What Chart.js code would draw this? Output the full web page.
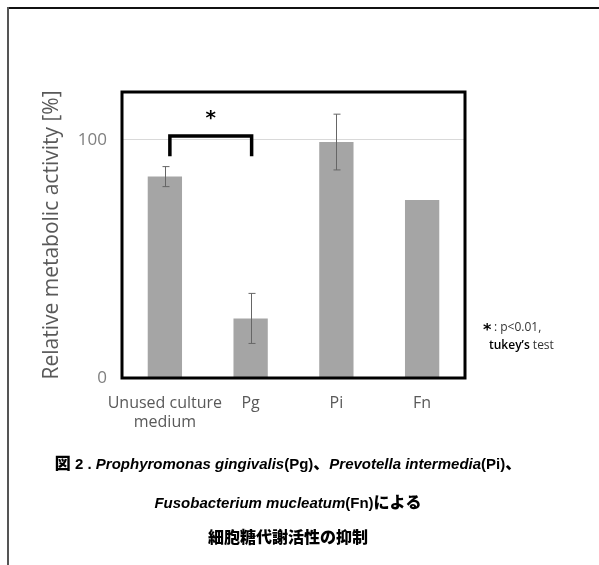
<!DOCTYPE html>
<html>
<head>
<meta charset="utf-8">
<script src="https://cdn.jsdelivr.net/npm/chart.js@4"></script>
<style>
  html, body { margin: 0; padding: 0; background: #fff; }
  canvas { display: block; }
</style>
</head>
<body>
<canvas id="chart" width="599" height="565"></canvas>
<script>
// data
var categories = [["Unused culture", "medium"], "Pg", "Pi", "Fn"];
var activity = [84.5, 25, 99, 74.7];
var errorSize = [4.2, 10.5, 11.7, 0];
var yTicks = [0, 100];
var yMax = 120;
// significance bracket between categories 0 and 1
var bracketFrom = 0, bracketTo = 1;
var bracketLevel = 101.5, bracketFoot = 93, starLevel = 110.5;

var greyText = "#595959";
var sans = "'Open Sans', 'DejaVu Sans', sans-serif";

var extras = {
    id: "extras",
    afterDatasetsDraw: function (chart) {
        var ctx = chart.ctx,
            area = chart.chartArea,
            x = chart.scales.x,
            y = chart.scales.y;

        ctx.save();
        // error bars
        ctx.strokeStyle = "#666";
        ctx.lineWidth = 1;
        activity.forEach(function (v, i) {
            if (!errorSize[i]) return;
            var cx = Math.round(x.getPixelForValue(i)) + 0.5,
                top = y.getPixelForValue(v + errorSize[i]),
                bot = y.getPixelForValue(v - errorSize[i]);
            ctx.beginPath();
            ctx.moveTo(cx, top); ctx.lineTo(cx, bot);
            ctx.moveTo(cx - 3, top); ctx.lineTo(cx + 4, top);
            ctx.moveTo(cx - 3, bot); ctx.lineTo(cx + 4, bot);
            ctx.stroke();
        });

        // plot frame
        ctx.strokeStyle = "#000";
        ctx.lineWidth = 3;
        ctx.strokeRect(area.left, area.top, area.right - area.left, area.bottom - area.top);

        // bracket
        var bx1 = x.getPixelForValue(bracketFrom) + 5,
            bx2 = x.getPixelForValue(bracketTo) + 1,
            by = y.getPixelForValue(bracketLevel),
            bf = y.getPixelForValue(bracketFoot);
        ctx.lineWidth = 3.5;
        ctx.lineCap = "butt";
        ctx.beginPath();
        ctx.moveTo(bx1, bf); ctx.lineTo(bx1, by); ctx.lineTo(bx2, by); ctx.lineTo(bx2, bf);
        ctx.stroke();
        ctx.fillStyle = "#000";
        ctx.font = "bold 20px 'DejaVu Sans', sans-serif";
        ctx.textAlign = "center";
        ctx.textBaseline = "middle";
        ctx.fillText("*", (bx1 + bx2) / 2, y.getPixelForValue(starLevel) + 4);

        // note
        ctx.textAlign = "left";
        ctx.textBaseline = "alphabetic";
        ctx.font = "bold 16px 'DejaVu Sans', sans-serif";
        ctx.fillText("*", 483, 335);
        ctx.fillStyle = "#333";
        ctx.font = "12px " + sans;
        ctx.fillText(": p<0.01,", 494, 331);
        ctx.fillStyle = "#000";
        ctx.font = "600 12px " + sans;
        ctx.fillText("tukey\u2019s", 489, 349);
        var tw = ctx.measureText("tukey\u2019s ").width;
        ctx.fillStyle = "#333";
        ctx.font = "12px " + sans;
        ctx.fillText("test", 489 + tw, 349);

        // page frame
        ctx.strokeStyle = "#111";
        ctx.lineWidth = 2;
        ctx.beginPath();
        ctx.moveTo(599, 8); ctx.lineTo(8, 8);
        ctx.stroke();
        ctx.strokeStyle = "#555";
        ctx.beginPath();
        ctx.moveTo(8, 7); ctx.lineTo(8, 565);
        ctx.stroke();

        // caption
        var jp = "900 16px 'Noto Sans CJK JP', sans-serif",
            it = "italic bold 15px 'Liberation Sans', Arial, sans-serif",
            rm = "bold 15px 'Liberation Sans', Arial, sans-serif";
        var lines = [
            [["図", jp], [" 2 . ", rm], ["Prophyromonas gingivalis", it], ["(Pg)", rm], ["、", jp],
             ["Prevotella intermedia", it], ["(Pi)", rm], ["、", jp]],
            [["Fusobacterium mucleatum", it], ["(Fn)", rm], ["による", jp]],
            [["細胞糖代謝活性の抑制", jp]]
        ];
        var baselines = [469, 508, 543];
        ctx.fillStyle = "#000";
        lines.forEach(function (segs, li) {
            var total = 0;
            segs.forEach(function (s) { ctx.font = s[1]; total += ctx.measureText(s[0]).width; });
            var px = 288 - total / 2;
            segs.forEach(function (s) {
                ctx.font = s[1];
                ctx.fillText(s[0], px, baselines[li]);
                px += ctx.measureText(s[0]).width;
            });
        });
        ctx.restore();
    }
};

new Chart(document.getElementById("chart"), {
    type: "bar",
    data: {
        labels: categories,
        datasets: [{
            data: activity,
            backgroundColor: "#a5a5a5",
            borderWidth: 0,
            categoryPercentage: 1,
            barPercentage: 0.4
        }]
    },
    options: {
        responsive: false,
        animation: false,
        events: [],
        layout: { padding: { left: 39, top: 92, right: 134, bottom: 0 } },
        plugins: { legend: { display: false }, tooltip: { enabled: false } },
        scales: {
            x: {
                grid: { display: false },
                border: { display: false },
                ticks: {
                    color: greyText, font: { family: sans, size: 16, lineHeight: 1.2 },
                    padding: 8, maxRotation: 0, autoSkip: false
                },
                afterFit: function (scale) { scale.height = 565 - 378; }
            },
            y: {
                min: 0,
                max: yMax,
                afterBuildTicks: function (scale) {
                    scale.ticks = yTicks.map(function (v) { return { value: v }; });
                },
                afterFit: function (scale) { scale.width = 122 - 39; },
                grid: {
                    drawTicks: false,
                    color: function (c) { return c.tick && c.tick.value === 100 ? "#d9d9d9" : "rgba(0,0,0,0)"; }
                },
                border: { display: false },
                ticks: { color: "#7f7f7f", font: { family: sans, size: 17 }, padding: 15 },
                title: {
                    display: true,
                    text: "Relative metabolic activity [%]",
                    color: greyText,
                    font: { family: sans, size: 21 },
                    padding: 0
                }
            }
        }
    },
    plugins: [extras]
});
</script>
</body>
</html>
